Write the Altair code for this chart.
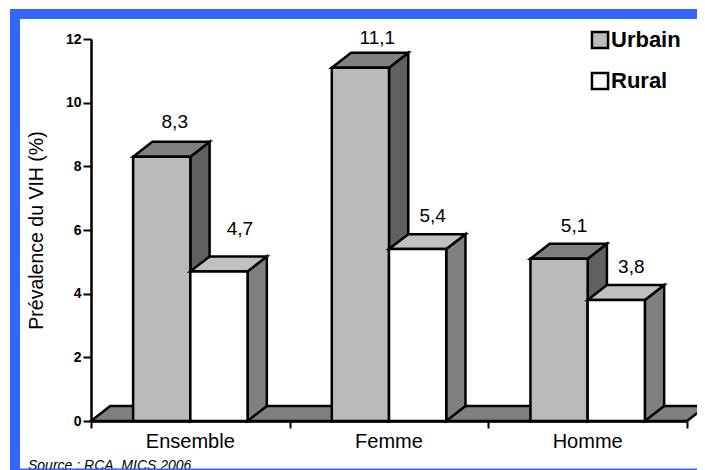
import altair as alt
import pandas as pd

categories = ["Ensemble", "Femme", "Homme"]
urbain = [8.3, 11.1, 5.1]
rural = [4.7, 5.4, 3.8]
value_labels_urbain = ["8,3", "11,1", "5,1"]
value_labels_rural = ["4,7", "5,4", "3,8"]
series_names = ["Urbain", "Rural"]
y_ticks = [0, 2, 4, 6, 8, 10, 12]
x_ticks = [0, 1, 2, 3]
source_text = "Source : RCA, MICS 2006"
y_title = "Prévalence du VIH (%)"

BAR = 0.288   # bar width, category units
DX = 0.097    # 3-D depth, category units
DY = 0.47     # 3-D depth, value units
BLACK = "#000000"
LW = 2.5

fronts, sides, tops = [], [], []
for s_i, (name, vals) in enumerate(zip(series_names, [urbain, rural])):
    for c_i, v in enumerate(vals):
        x0 = c_i + 0.5 - BAR + s_i * BAR
        x1 = x0 + BAR
        g = f"{name}-{c_i}"
        fronts.append(dict(series=name, x0=x0, x1=x1, y0=0, y1=v))
        sides += [dict(series=name, g=g, x=x1, lo=0, hi=v),
                  dict(series=name, g=g, x=x1 + DX, lo=DY, hi=v + DY)]
        tops += [dict(series=name, g=g, x=x0, lo=v, hi=v),
                 dict(series=name, g=g, x=x0 + DX, lo=v, hi=v + DY),
                 dict(series=name, g=g, x=x1, lo=v, hi=v + DY),
                 dict(series=name, g=g, x=x1 + DX, lo=v + DY, hi=v + DY)]
fronts, sides, tops = map(pd.DataFrame, (fronts, sides, tops))

ground = pd.DataFrame([
    dict(g="f", x=0, lo=0, hi=0), dict(g="f", x=DX, lo=0, hi=DY),
    dict(g="f", x=3, lo=0, hi=DY), dict(g="f", x=3 + DX, lo=DY, hi=DY)])

x_scale = alt.Scale(domain=[0, 3], nice=False, zero=False)
y_scale = alt.Scale(domain=[0, 12], nice=False)
x_axis = alt.Axis(values=x_ticks, labels=False, grid=False, domainColor=BLACK, domainWidth=LW,
                  tickColor=BLACK, tickWidth=2, tickSize=7)
y_axis = alt.Axis(values=y_ticks, grid=False, domainColor=BLACK, domainWidth=LW,
                  tickColor=BLACK, tickWidth=2, tickSize=8, labelFont="Liberation Sans",
                  labelFontWeight="bold", labelFontSize=14, labelColor=BLACK, labelPadding=2,
                  titleFont="Liberation Sans", titleFontWeight="normal", titleFontSize=19.5,
                  titleColor=BLACK, titlePadding=19)


def ex(field):
    return alt.X(field, scale=x_scale, axis=x_axis, title=None)


def ey(field):
    return alt.Y(field, scale=y_scale, axis=y_axis, title=y_title)


def faces(df, fill):
    return alt.Chart(df).mark_area(fill=fill, stroke=BLACK, strokeWidth=LW, strokeJoin="miter").encode(
        x=ex("x:Q"), y=ey("hi:Q"), y2="lo:Q", detail="g:N")


front_chart = alt.Chart(fronts).mark_rect(stroke=BLACK, strokeWidth=LW).encode(
    x=ex("x0:Q"), x2="x1:Q", y=ey("y0:Q"), y2="y1:Q",
    color=alt.Color("series:N",
                    scale=alt.Scale(domain=series_names, range=["#bababa", "#ffffff"]),
                    legend=alt.Legend(title=None, orient="none", legendX=498, legendY=-10,
                                      symbolType="square", symbolSize=260, symbolStrokeColor=BLACK,
                                      symbolStrokeWidth=2.5, symbolOpacity=1, labelFont="Liberation Sans",
                                      labelFontWeight="bold", labelFontSize=22, labelColor=BLACK,
                                      rowPadding=13, labelOffset=0, labelLimit=200)),
)


def split(df, name):
    return df[df.series == name]


# label placement tweaks (category units, value units) for two labels that sit off the common offset
nudge = {"4,7": (0.03, 0.31), "11,1": (0.01, -0.12), "8,3": (-0.01, 0.06)}
label_rows = []
for c_i in range(3):
    for base_x, v, t in [(c_i + 0.5 - BAR / 2, urbain[c_i], value_labels_urbain[c_i]),
                         (c_i + 0.5 + BAR / 2, rural[c_i], value_labels_rural[c_i])]:
        nx, ny = nudge.get(t, (0, 0))
        label_rows.append(dict(x=base_x + nx, v=v + ny, t=t))
value_text = alt.Chart(pd.DataFrame(label_rows)).mark_text(
    font="Liberation Sans", fontSize=19, color=BLACK, dx=15, dy=-33).encode(
    x=ex("x:Q"), y=ey("v:Q"), text="t:N")

cat_text = alt.Chart(pd.DataFrame({"x": [i + 0.5 for i in range(3)], "c": categories, "hi": [0, 0, 0]})).mark_text(
    font="Liberation Sans", fontSize=20, color=BLACK, dy=21).encode(x=ex("x:Q"), y=ey("hi:Q"), text="c:N")

source = alt.Chart(pd.DataFrame({"t": [source_text]})).mark_text(
    font="Liberation Sans", fontStyle="italic", fontSize=14, color=BLACK, align="left", baseline="alphabetic"
).encode(x=alt.value(-63), y=alt.value(431), text="t:N")


def frame(x, x2, y, y2):
    return alt.Chart(pd.DataFrame({"a": [1]})).mark_rect(color="#3366ff").encode(
        x=alt.value(x), x2=alt.value(x2), y=alt.value(y), y2=alt.value(y2))


layers = [
    faces(ground, "#808080"),
    faces(split(sides, "Urbain"), "#606060"),
    faces(split(tops, "Urbain"), "#808080"),
    front_chart.transform_filter(alt.datum.series == "Urbain"),
    faces(split(sides, "Rural"), "#808080"),
    faces(split(tops, "Rural"), "#c0c0c0"),
    front_chart.transform_filter(alt.datum.series == "Rural"),
    value_text, cat_text, source,
    frame(-81, 606, -30, -20),
    frame(-81, -71, -30, 431),
    frame(-71, 606, 429.5, 431),
]

chart = alt.layer(*layers).properties(
    width=596, height=382,
    padding={"left": 83, "top": 31, "right": 10, "bottom": 49},
    autosize=alt.AutoSizeParams(type="none"),
).configure_view(stroke=None)

chart.save("out.html", embed_options={"renderer": "svg", "actions": False})
